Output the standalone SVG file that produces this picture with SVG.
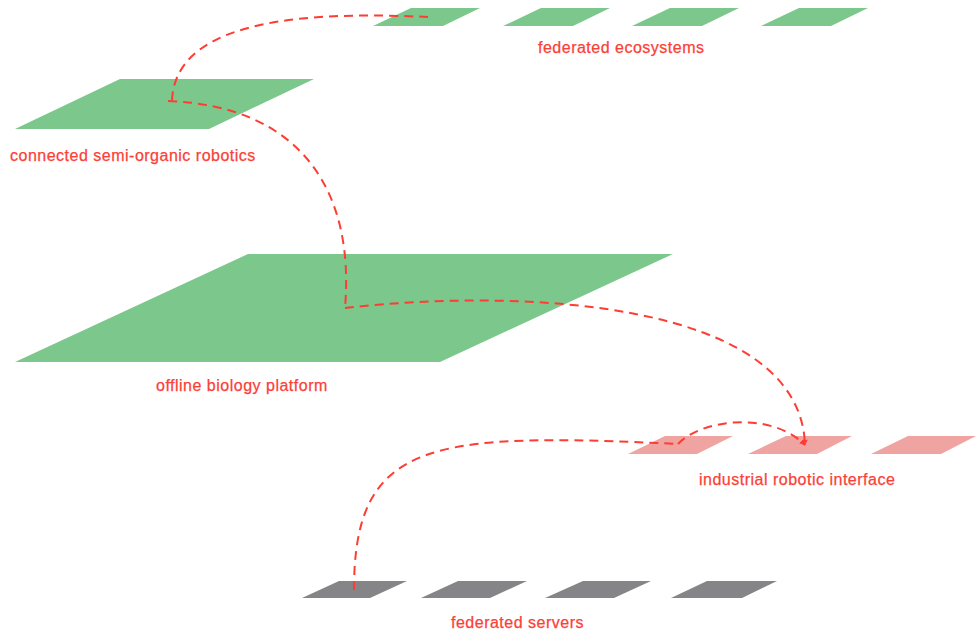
<svg xmlns="http://www.w3.org/2000/svg" width="976" height="634" viewBox="0 0 976 634">
  <style>
    .green { fill: #7cc78b; }
    .pink { fill: #f0a4a1; }
    .grey { fill: #858588; }
    .label { font-family: "Liberation Sans", Arial, sans-serif; font-size: 16px; letter-spacing: 0.5px; fill: #fb4038; stroke: #fb4038; stroke-width: 0.25px; }
    .link { fill: none; stroke: #fd3d33; stroke-width: 2; stroke-dasharray: 9 6; }
  </style>
  <defs>
    <marker id="arrow" viewBox="0 0 10 10" refX="9" refY="5" markerWidth="6" markerHeight="6" markerUnits="userSpaceOnUse" orient="auto">
      <path d="M0,0 L10,5 L0,10 z" fill="#fd3d33"/>
    </marker>
  </defs>

  <rect width="976" height="634" fill="#ffffff"/>

  <!-- top row: federated ecosystems -->
  <g id="federated-ecosystems">
    <polygon class="green" points="411,8 480,8 443,26 373,26"/>
    <polygon class="green" points="541,8 610,8 573,26 503,26"/>
    <polygon class="green" points="670,8 739,8 702,26 632,26"/>
    <polygon class="green" points="799,8 868,8 831,26 761,26"/>
    <text class="label" x="538" y="53">federated ecosystems</text>
  </g>

  <g id="connected-semi-organic-robotics">
    <polygon class="green" points="120,79 314,79 209,129 15,129"/>
    <text class="label" x="10" y="161">connected semi-organic robotics</text>
  </g>

  <g id="offline-biology-platform">
    <polygon class="green" points="248,254 673,254 440,362 15,362"/>
    <text class="label" x="156" y="391">offline biology platform</text>
  </g>

  <g id="industrial-robotic-interface">
    <polygon class="pink" points="665,436 733,436 697,454 628,454"/>
    <polygon class="pink" points="786,436 852,436 817,454 748,454"/>
    <polygon class="pink" points="908,436 976,436 941,454 871,454"/>
    <text class="label" x="699" y="485">industrial robotic interface</text>
  </g>

  <g id="federated-servers">
    <polygon class="grey" points="339,581 407,581 370,598 302,598"/>
    <polygon class="grey" points="458,581 527,581 490,598 421,598"/>
    <polygon class="grey" points="583,581 651,581 614,598 545,598"/>
    <polygon class="grey" points="707,581 777,581 742,598 671,598"/>
    <text class="label" x="451" y="628">federated servers</text>
  </g>

  <!-- dashed connectors -->
  <g id="connectors">
    <path class="link" d="M428,17 C320,12 175,15 172,101"/>
    <path class="link" d="M168,101 C300,106 355,190 345,308"/>
    <path class="link" d="M345,308 C520,288 800,300 805,445" marker-end="url(#arrow)"/>
    <path class="link" d="M354,590 C354,440 430,432 678,444"/>
    <path class="link" d="M678,444 C700,420 770,410 805,445" marker-end="url(#arrow)"/>
  </g>
</svg>
